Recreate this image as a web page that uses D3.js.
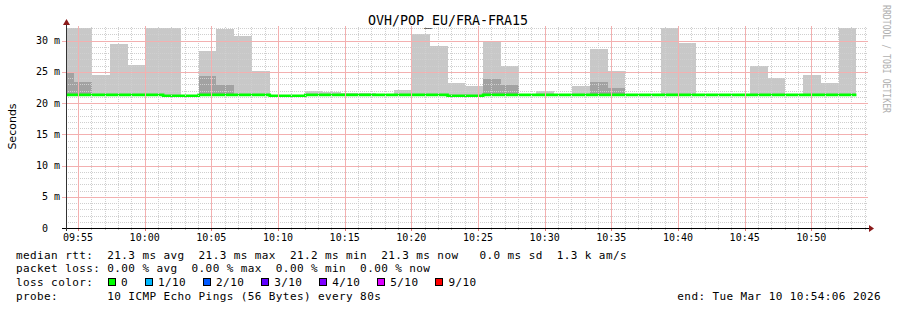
<!DOCTYPE html>
<html>
<head>
<meta charset="utf-8">
<script src="https://cdn.jsdelivr.net/npm/d3@7"></script>
<style>
  body { margin: 0; background: #fff; }
  svg text { font-family: "DejaVu Sans Mono", monospace; white-space: pre; fill: #000; }
</style>
</head>
<body>
<svg id="chart" width="897" height="310"></svg>
<script>
// smokeping graph: one step = 80 s, 10 pings per step
const title = "OVH/POP_EU/FRA-FRA15";
const viewStart = new Date(2026, 2, 10, 9, 54, 6);
const viewEnd = new Date(2026, 2, 10, 10, 54, 6);
const stepStart = new Date(2026, 2, 10, 9, 53, 23);
const stepSeconds = 80;

// median rtt per step (ms)
const median = [21.3, 21.3, 21.3, 21.3, 21.3, 21.3, 21.17, 21.17, 21.3, 21.3,
                21.3, 21.3, 21.17, 21.17, 21.3, 21.3, 21.3, 21.3, 21.3, 21.3,
                21.3, 21.3, 21.17, 21.17, 21.3, 21.3, 21.3, 21.3, 21.3, 21.3,
                21.3, 21.3, 21.3, 21.3, 21.3, 21.3, 21.3, 21.3, 21.3, 21.3,
                21.3, 21.3, 21.3, 21.3, 21.3];
// top of the light smoke (slowest ping), null = no smoke
const smokeTop = [32, 32, 24.5, 29.45, 26.1, 32, 32, null, 28.4, 31.9,
                  30.75, 25.15, null, null, 22.0, 21.7, 21.6, 21.6, null, 22.1,
                  31.05, 29.15, 23.25, 22.75, 29.95, 25.95, null, 22.0, null, 22.75,
                  28.65, 25.15, null, null, 32, 29.6, null, null, null, 25.95,
                  24.05, null, 24.5, 23.2, 32];
// top of the darker smoke band
const smokeDark = [25.0, 23.35, null, null, null, null, null, null, 24.25, 22.95,
                   null, null, null, null, null, null, null, null, null, null,
                   null, null, null, null, 23.9, 22.9, null, null, null, null,
                   23.4, 22.45, null, null, null, null, null, null, null, null,
                   null, null, null, null, null];

const yTicks = [0, 5, 10, 15, 20, 25, 30];
const yUnit = "m";
const lossLabels = ["0", "1/10", "2/10", "3/10", "4/10", "5/10", "9/10"];
const lossColors = ["#00ff00", "#00b8ff", "#0059ff", "#5e00ff", "#7e00ff", "#dd00ff", "#ff0000"];
const legendLines = [
  "median rtt:  21.3 ms avg  21.3 ms max  21.2 ms min  21.3 ms now   0.0 ms sd  1.3 k am/s",
  "packet loss: 0.00 % avg  0.00 % max  0.00 % min  0.00 % now",
  "loss color:",
  "probe:       10 ICMP Echo Pings (56 Bytes) every 80s"
];
const endLabel = "end: Tue Mar 10 10:54:06 2026";

const svg = d3.select("#chart");
const pLeft = 66, pRight = 866, pTop = 28, pBottom = 228;

const x = d3.scaleTime().domain([viewStart, viewEnd]).range([pLeft, pRight]);
const y = d3.scaleLinear().domain([0, 32]).range([pBottom, pTop]);

const steps = median.map((m, i) => ({
  t0: new Date(stepStart.getTime() + i * stepSeconds * 1000),
  t1: new Date(stepStart.getTime() + (i + 1) * stepSeconds * 1000),
  med: m, hi: smokeTop[i], dark: smokeDark[i]
}));

svg.append("clipPath").attr("id", "plot")
  .append("rect").attr("x", pLeft).attr("y", pTop).attr("width", pRight - pLeft).attr("height", pBottom - pTop);

const plot = svg.append("g").attr("clip-path", "url(#plot)");

// smoke
plot.selectAll("rect.light").data(steps.filter(d => d.hi != null)).join("rect")
  .attr("class", "light")
  .attr("x", d => x(d.t0)).attr("width", d => x(d.t1) - x(d.t0))
  .attr("y", d => y(d.hi)).attr("height", d => y(d.med) - y(d.hi))
  .attr("fill", "#c8c8c8").attr("shape-rendering", "crispEdges");

plot.selectAll("rect.dark").data(steps.filter(d => d.dark != null)).join("rect")
  .attr("class", "dark")
  .attr("x", d => x(d.t0)).attr("width", d => x(d.t1) - x(d.t0))
  .attr("y", d => y(d.dark)).attr("height", d => y(d.med) - y(d.dark))
  .attr("fill", "#a2a2a2").attr("shape-rendering", "crispEdges");

// grid: minor every minute / 1 ms, major every 5
const minutes = x.ticks(d3.timeMinute.every(1));
const isMajorT = t => t.getMinutes() % 5 === 0;
const hVals = d3.range(1, 33);

const minorGrid = svg.append("g").attr("shape-rendering", "crispEdges")
  .attr("stroke-dasharray", "1,1").attr("stroke", "#cfcfcf");
const majorGrid = svg.append("g").attr("shape-rendering", "crispEdges")
  .attr("stroke", "#f3b0b0");

minutes.filter(t => !isMajorT(t)).forEach(t => {
  const px = Math.round(x(t)) + 0.5;
  minorGrid.append("line").attr("x1", px).attr("x2", px).attr("y1", pBottom).attr("y2", pTop - 2);
});
hVals.filter(v => v % 5 !== 0).forEach(v => {
  const py = Math.round(y(v)) + 0.5;
  minorGrid.append("line").attr("x1", pLeft).attr("x2", pRight + 2).attr("y1", py).attr("y2", py);
});

minutes.filter(isMajorT).forEach(t => {
  const px = Math.round(x(t)) + 0.5;
  majorGrid.append("line").attr("x1", px).attr("x2", px).attr("y1", pBottom).attr("y2", pTop - 2);
});
hVals.filter(v => v % 5 === 0).forEach(v => {
  const py = Math.round(y(v)) + 0.5;
  majorGrid.append("line").attr("x1", pLeft - 4).attr("x2", pRight + 2).attr("y1", py).attr("y2", py);
});

// median line
const medLine = d3.line().x(d => x(d[0])).y(d => y(d[1])).curve(d3.curveStepAfter);
const medPts = steps.map(d => [d.t0, d.med]);
medPts.push([steps[steps.length - 1].t1, steps[steps.length - 1].med]);
plot.append("path").datum(medPts).attr("d", medLine)
  .attr("fill", "none").attr("stroke", lossColors[0]).attr("stroke-width", 2.6);

// axes
const axes = svg.append("g").attr("shape-rendering", "crispEdges");
axes.append("line").attr("x1", pLeft - 4).attr("x2", pRight + 3).attr("y1", pBottom + 0.5).attr("y2", pBottom + 0.5)
  .attr("stroke", "#000");
axes.append("line").attr("x1", pLeft + 0.5).attr("x2", pLeft + 0.5).attr("y1", pBottom + 3).attr("y2", pTop - 4)
  .attr("stroke", "#333");

minutes.forEach(t => {
  const major = isMajorT(t);
  const px = Math.round(x(t)) + 0.5;
  axes.append("line").attr("x1", px).attr("x2", px).attr("y1", pBottom + 1).attr("y2", pBottom + (major ? 3 : 2))
    .attr("stroke", major ? "#e07070" : "#bbbbbb");
});

svg.append("path").attr("d", `M${pLeft - 3},${pTop - 3} L${pLeft + 4},${pTop - 3} L${pLeft + 0.5},${pTop - 9} Z`)
  .attr("fill", "#8b1a1a");
svg.append("path").attr("d", `M${pRight + 3},${pBottom - 3} L${pRight + 3},${pBottom + 4} L${pRight + 8},${pBottom + 0.5} Z`)
  .attr("fill", "#8b1a1a");

// tick labels
svg.append("g").selectAll("text").data(yTicks).join("text")
  .attr("x", 60).attr("y", d => y(d)).attr("dy", "0.35em")
  .attr("text-anchor", "end").attr("font-size", "10px")
  .text(d => d === 0 ? "0  " : d + " " + yUnit);

const fmt = d3.timeFormat("%H:%M");
svg.append("g").selectAll("text").data(minutes.filter(isMajorT)).join("text")
  .attr("x", d => x(d)).attr("y", 241)
  .attr("text-anchor", "middle").attr("font-size", "10px")
  .text(d => fmt(d));

// titles
svg.append("text").attr("x", 448).attr("y", 25).attr("text-anchor", "middle")
  .attr("font-size", "13.3px").text(title);

svg.append("text").attr("transform", "translate(15.5,126.5) rotate(-90)")
  .attr("text-anchor", "middle").attr("font-size", "11px")
  .style("font-family", "'DejaVu Sans', sans-serif").text("Seconds");

svg.append("text").attr("transform", "translate(883,5) rotate(90)")
  .attr("font-size", "11px").attr("textLength", 108).attr("lengthAdjust", "spacingAndGlyphs")
  .style("fill", "#b0b0b0").text("RRDTOOL / TOBI OETIKER");

// legend
const adv = 7.02;
const rowY = [258.5, 272, 285.8, 299.5];
const leg = svg.append("g").attr("font-size", "11px").attr("letter-spacing", "0.4px");
legendLines.forEach((s, i) => {
  leg.append("text").attr("x", 16).attr("y", rowY[i]).text(s);
});

let bx = 108.5;
lossLabels.forEach((lab, i) => {
  leg.append("rect").attr("x", bx).attr("y", 278.5).attr("width", 7).attr("height", 7)
    .attr("fill", lossColors[i]).attr("stroke", "#000").attr("stroke-width", 1)
    .attr("shape-rendering", "crispEdges");
  leg.append("text").attr("x", bx + 12.5).attr("y", rowY[2]).text(lab);
  bx = bx + 12.5 + lab.length * adv + 17.5;
});

leg.append("text").attr("x", 881).attr("y", rowY[3]).attr("text-anchor", "end").text(endLabel);
</script>
</body>
</html>
